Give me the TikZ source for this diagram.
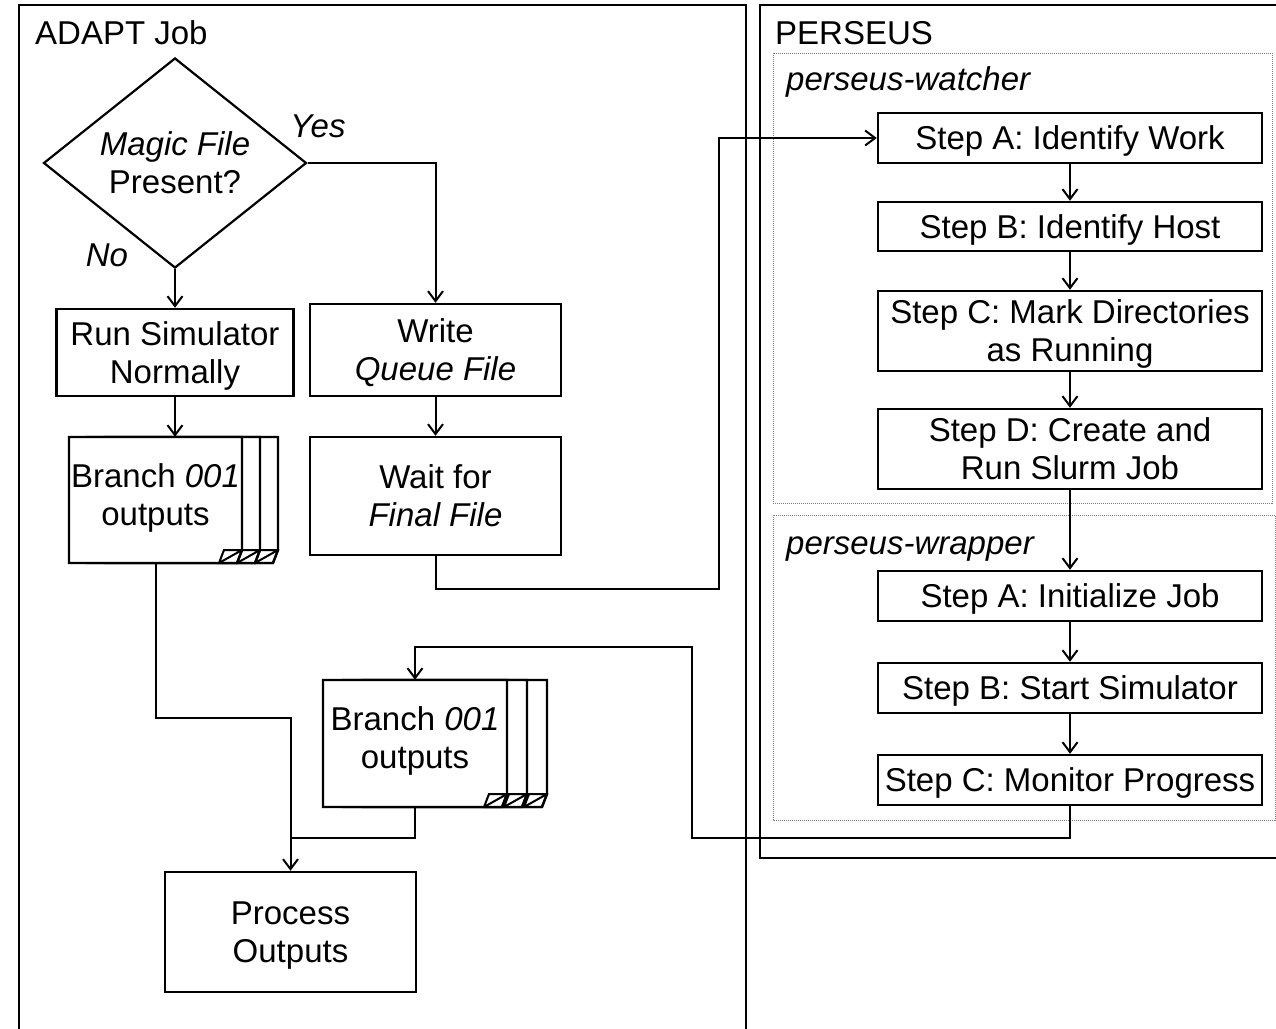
\documentclass[tikz,border=0pt]{standalone}
\usepackage{fontspec}
\setmainfont{Liberation Sans}
\usetikzlibrary{arrows.meta,shapes.geometric,calc}
\newcommand\mypage[4]{%
  \filldraw[fill=white,pagebox] (#1,#2) -- (#3,#2) -- (#3,#4-13) -- (#3-5,#4) -- (#1,#4) -- cycle;
  \draw[foldline] (#3-23,#4) -- (#3-18,#4-13) -- (#3,#4-13) -- (#3-5,#4) -- cycle (#3-23,#4) -- (#3,#4-13);
}
\begin{document}
\begin{tikzpicture}[x=1pt,y=-1pt,
  every node/.style={font=\fontsize{33}{38}\selectfont, inner sep=0pt},
  box/.style={draw, line width=2.4pt, align=center, rectangle, text depth=0pt},
  pagebox/.style={line width=2.4pt, line join=miter},
  foldline/.style={line width=2pt, line join=miter},
  frame/.style={draw, line width=2.4pt},
  dotframe/.style={draw=gray, line width=1pt, densely dotted},
  conn/.style={line width=2pt},
  arr/.style={conn, -{Straight Barb[length=10pt,width=15pt]}},
  lbl/.style={font=\fontsize{33}{38}\selectfont\itshape}]
\useasboundingbox (0,0) rectangle (1276,1028);
\clip (0,0) rectangle (1276,1028);

% frames
\draw[frame] (19,1050) -- (19,5) -- (746,5) -- (746,1050);
\draw[frame] (1290,858) -- (760,858) -- (760,5) -- (1290,5);
\draw[dotframe] (773,53) rectangle (1272,503);
\draw[dotframe] (773,515) rectangle (1275,820);

\node[anchor=base west] (adapt) at (35,44) {ADAPT Job};
\node[anchor=base west] (perseus) at (775,44) {PERSEUS};
\node[anchor=base west, lbl] (watch) at (786,90) {perseus-watcher};
\node[anchor=base west, lbl] (wrap) at (786,554) {perseus-wrapper};

% diamond
\node[draw, diamond, line width=2.2pt, shape aspect=1.25, minimum width=263pt, minimum height=210pt, align=center] (dia) at (175,163) {\itshape Magic File\\Present?};
\node[lbl] (yes) at (318,126) {Yes};
\node[lbl] (no) at (107,255) {No};

% left column boxes
\node[box, minimum width=237pt, minimum height=87pt] (run) at (175,352.5) {Run Simulator\\Normally};
\node[box, minimum width=251pt, minimum height=92pt] (write) at (435.5,350) {Write\\\itshape Queue File};
\node[box, minimum width=251pt, minimum height=118pt] (wait) at (435.5,496) {Wait for\\\itshape Final File};
\node[box, minimum width=251pt, minimum height=120pt] (proc) at (290.5,932) {Process\\Outputs};

% stack 1
\mypage{105}{437}{278}{563}
\mypage{87}{437}{260}{563}
\mypage{69}{437}{242}{563}
\node[minimum width=173pt, minimum height=126pt] (st1) at (155.5,500) {};
\node[align=center] (st1t) at (155.5,498) {Branch \itshape 001\\outputs};

% stack 2
\mypage{363}{680}{547}{807}
\mypage{343}{680}{527}{807}
\mypage{323}{680}{507}{807}
\node[minimum width=184pt, minimum height=127pt] (st2) at (415,743.5) {};
\node[align=center] (st2t) at (415,741) {Branch \itshape 001\\outputs};

% right column
\node[box, minimum width=384pt, minimum height=50pt] (wA) at (1070,138) {Step A: Identify Work};
\node[box, minimum width=384pt, minimum height=49pt] (wB) at (1070,226.5) {Step B: Identify Host};
\node[box, minimum width=384pt, minimum height=80pt] (wC) at (1070,331) {Step C: Mark Directories\\as Running};
\node[box, minimum width=384pt, minimum height=80pt] (wD) at (1070,449) {Step D: Create and\\Run Slurm Job};
\node[box, minimum width=384pt, minimum height=50pt] (pA) at (1070,596) {Step A: Initialize Job};
\node[box, minimum width=384pt, minimum height=50pt] (pB) at (1070,688) {Step B: Start Simulator};
\node[box, minimum width=384pt, minimum height=50pt] (pC) at (1070,780) {Step C: Monitor Progress};

% connectors
\draw[arr] (dia.south) -- (run.north);
\draw[arr] (dia.east) -| (write.north);
\draw[arr] (run.south) -- (run.south |- st1.north);
\draw[arr] (write.south) -- (wait.north);
\coordinate (j1) at (719,589);
\coordinate (j2) at (719,138);
\draw[arr] (wait.south) |- (j1) -- (j2) -- (wA.west);
\draw[arr] (wA) -- (wB);
\draw[arr] (wB) -- (wC);
\draw[arr] (wC) -- (wD);
\draw[arr] (wD) -- (pA);
\draw[arr] (pA) -- (pB);
\draw[arr] (pB) -- (pC);
\coordinate (f1) at (1070,838);
\coordinate (f2) at (692,838);
\coordinate (f3) at (692,647);
\draw[arr] (pC.south) -- (f1) -- (f2) -- (f3) -| (st2.north);
\coordinate (k1) at (155.5,718);
\draw[arr] (st1.south) -- (k1) -| (proc.north);
\coordinate (k2) at (290.5,838);
\draw[conn] (st2.south) |- (k2);
\end{tikzpicture}
\end{document}
